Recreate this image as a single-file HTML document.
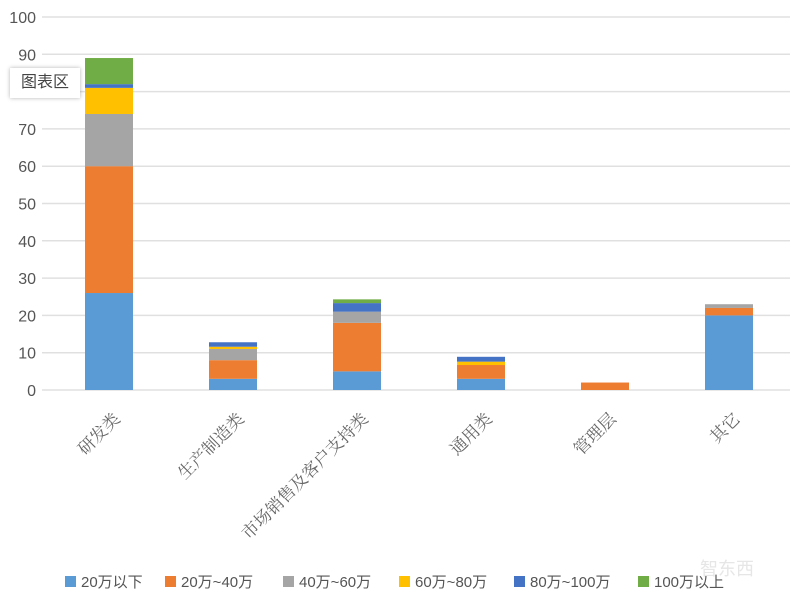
<!DOCTYPE html>
<html><head><meta charset="utf-8"><style>
body{margin:0;background:#fff;width:800px;height:603px;overflow:hidden;font-family:"Liberation Sans","Noto Sans CJK SC",sans-serif;}
</style></head><body>
<svg id="chart" width="800" height="603" style="position:absolute;left:0;top:0">
<g id="grid"></g>
<g id="bars"></g>
<g id="ylab"></g>
<g id="xlab"></g>
<g id="legend"></g>
<text x="700" y="575" font-size="18" fill="#e6e6e6">智东西</text>
</svg>
<div style="position:absolute;left:10px;top:68px;width:70px;height:30px;background:#fff;box-shadow:0 0 4px rgba(0,0,0,.3);font-size:16px;color:#444;line-height:30px;text-align:center">图表区</div>
<script>
const categories=["研发类","生产制造类","市场销售及客户支持类","通用类","管理层","其它"];
const seriesNames=["20万以下","20万~40万","40万~60万","60万~80万","80万~100万","100万以上"];
const s1=[26,3,5,3,0,20];
const s2=[34,5,13,3.7,2,2];
const s3=[14,3,3,0,0,1];
const s4=[7,0.6,0,0.9,0,0];
const s5=[1,1.2,2.3,1.3,0,0];
const s6=[7,0,1,0,0,0];
const yTicks=[0,10,20,30,40,50,60,70,80,90,100];
const colors=["#5b9bd5","#ed7d31","#a5a5a5","#ffc000","#4472c4","#70ad47"];
const series=[s1,s2,s3,s4,s5,s6];
const NS="http://www.w3.org/2000/svg";
const y0=390,y100=17,x0=42,x1=790;
const yS=v=>y0-(y0-y100)*v/100;
const xC=i=>109+i*124;
const bw=48;
function mk(t,a,p){const e=document.createElementNS(NS,t);for(const k in a)e.setAttribute(k,a[k]);p.appendChild(e);return e;}
const grid=document.getElementById('grid'),ylab=document.getElementById('ylab');
yTicks.forEach(v=>{
 const l=mk('line',{x1:x0,x2:x1,y1:yS(v),y2:yS(v),stroke:'#e0e0e0','stroke-width':1.5},grid);
 
 
 const t=mk('text',{x:36,y:yS(v)+6,'text-anchor':'end','font-size':16,fill:'#555'},ylab);
 t.textContent=v;
 
 
});
const bars=document.getElementById('bars');
categories.forEach((c,i)=>{
 let acc=0;
 series.forEach((s,k)=>{
  const v=s[i];if(v<=0)return;
  const r=mk('rect',{x:xC(i)-bw/2,y:yS(acc+v),width:bw,height:yS(acc)-yS(acc+v),fill:colors[k]},bars);
  
  
  acc+=v;
 });
});
const xlab=document.getElementById('xlab');
categories.forEach((c,i)=>{
 const t=mk('text',{x:0,y:0,'text-anchor':'end','font-size':17,fill:'#666','font-family':'"Liberation Serif","Noto Serif CJK SC",serif',transform:`translate(${xC(i)+12},${y0+30}) rotate(-45)`},xlab);
 t.textContent=c;
 
 
});
const legend=document.getElementById('legend');
const lx=[65,165,283,399,514,638];
seriesNames.forEach((n,k)=>{
 const r=mk('rect',{x:lx[k],y:576,width:11,height:11,fill:colors[k]},legend);
 
 
 const t=mk('text',{x:lx[k]+16,y:587,'font-size':15,fill:'#555'},legend);
 t.textContent=n;
 
 
});
</script>
</body></html>
